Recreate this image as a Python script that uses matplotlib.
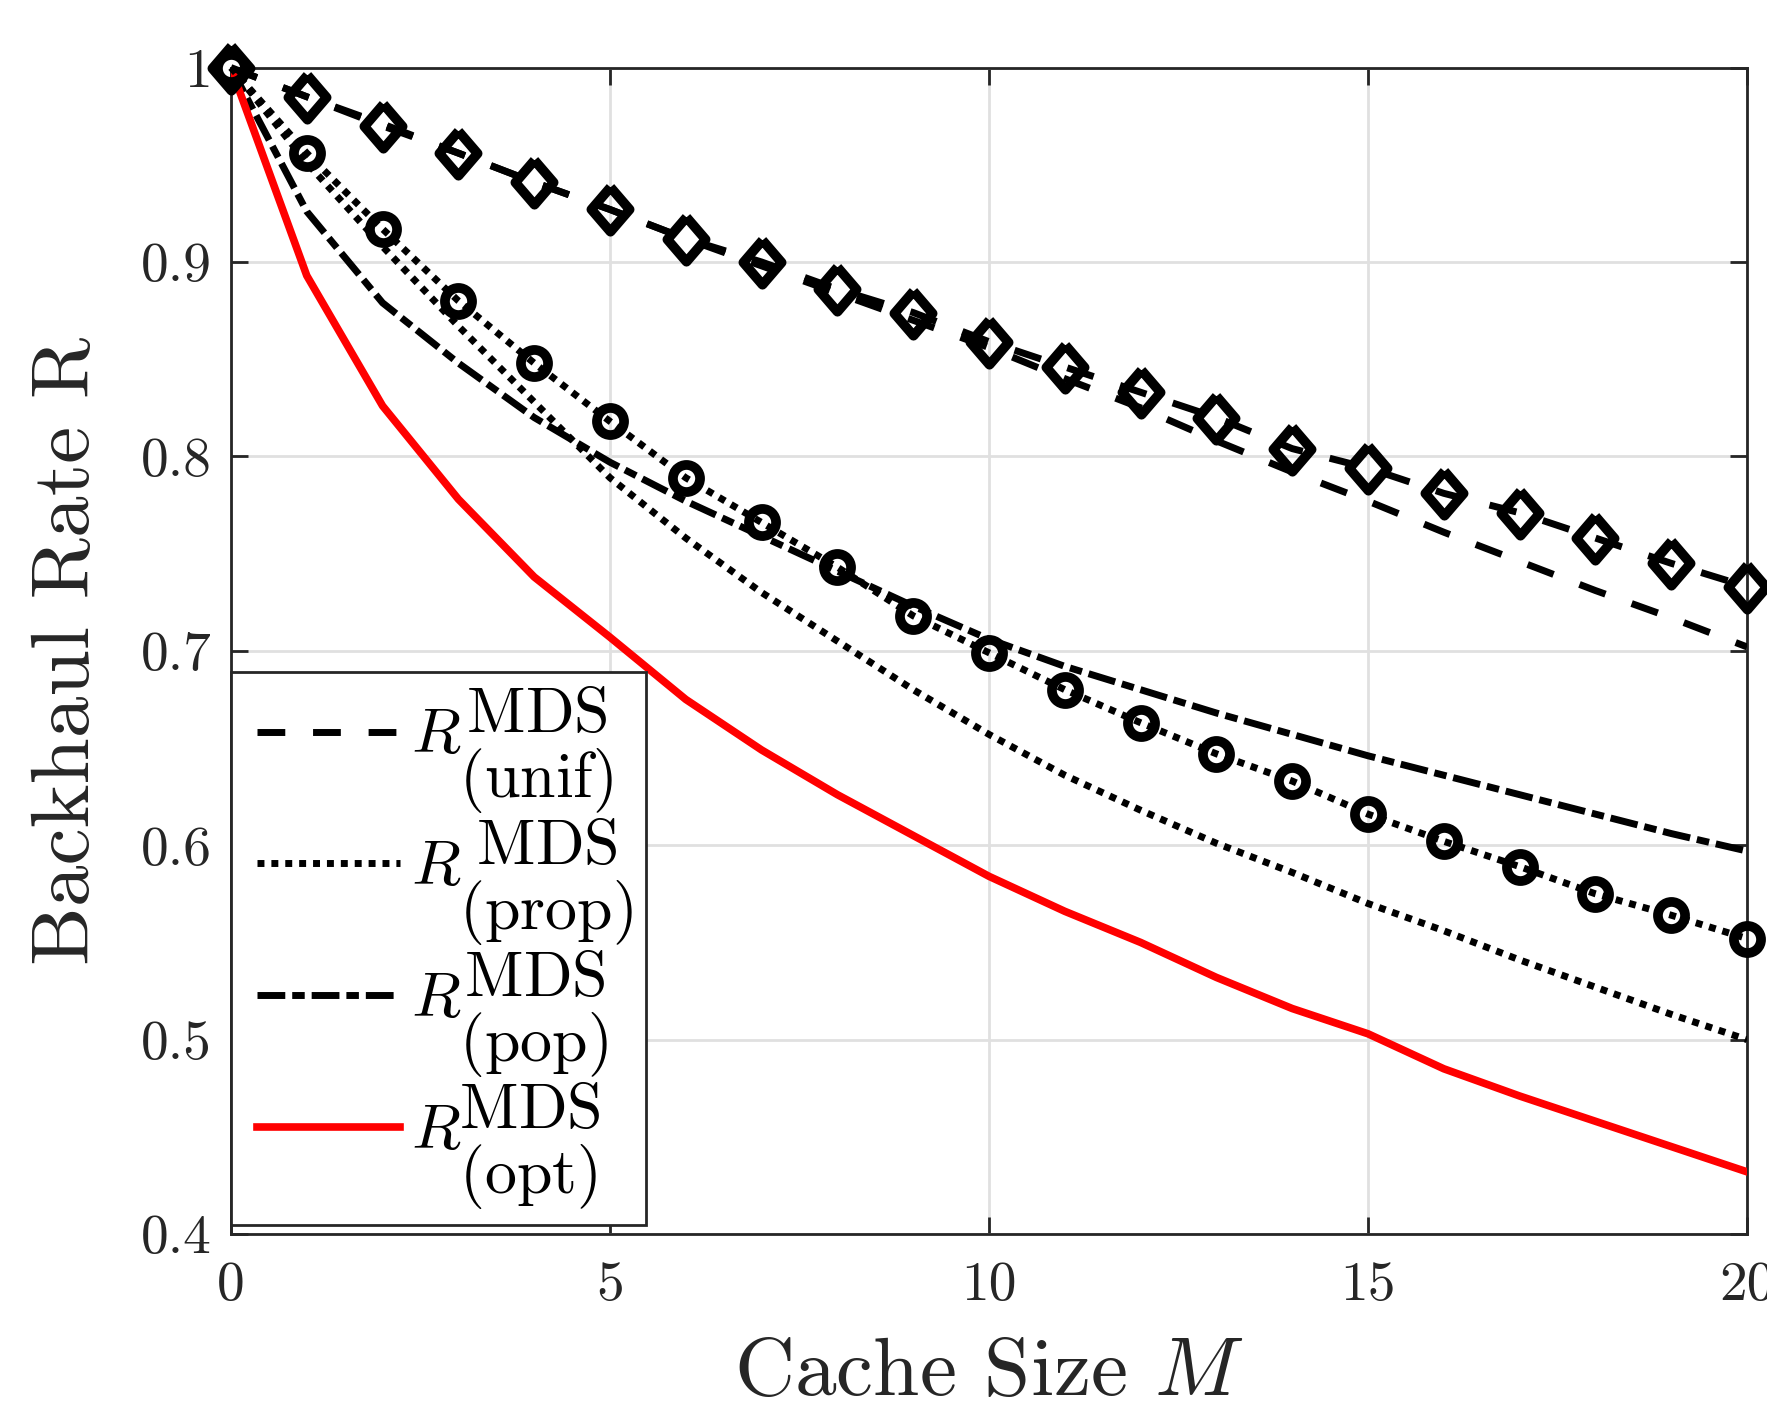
import matplotlib
matplotlib.use("Agg")
import matplotlib.pyplot as plt
from matplotlib.lines import Line2D
from matplotlib.legend_handler import HandlerLine2D

# ── Style ────────────────────────────────────────────────────────────────────
plt.rcParams["font.family"] = "cmr10"
plt.rcParams["mathtext.fontset"] = "cm"
plt.rcParams["axes.formatter.use_mathtext"] = True
plt.rcParams["lines.scale_dashes"] = False

C_AXIS = "#262626"
C_GRID = "#e0e0e0"
C_RED = "#ff0000"
C_BLACK = "#000000"

# ── Data ─────────────────────────────────────────────────────────────────────
cache_size = list(range(0, 21))

rate_unif = [1.000, 0.985, 0.971, 0.956, 0.941, 0.927, 0.912, 0.898, 0.884, 0.870,
             0.856, 0.840, 0.825, 0.808, 0.792, 0.777, 0.761, 0.746, 0.731, 0.717,
             0.702]
rate_unif_sim = [1.000, 0.985, 0.970, 0.956, 0.941, 0.927, 0.912, 0.900, 0.886, 0.874,
                 0.859, 0.846, 0.833, 0.820, 0.804, 0.794, 0.781, 0.771, 0.758, 0.745,
                 0.733]
rate_prop = [1.000, 0.951, 0.908, 0.867, 0.828, 0.789, 0.758, 0.730, 0.705, 0.680,
             0.657, 0.636, 0.618, 0.601, 0.586, 0.570, 0.556, 0.541, 0.527, 0.513,
             0.500]
rate_prop_sim = [1.000, 0.956, 0.917, 0.880, 0.848, 0.818, 0.789, 0.766, 0.743, 0.718,
                 0.699, 0.680, 0.663, 0.647, 0.633, 0.616, 0.602, 0.589, 0.575, 0.564,
                 0.552]
rate_pop = [1.000, 0.926, 0.879, 0.848, 0.820, 0.797, 0.777, 0.759, 0.741, 0.723,
            0.706, 0.692, 0.680, 0.668, 0.657, 0.646, 0.636, 0.626, 0.616, 0.606,
            0.597]
rate_opt = [1.000, 0.893, 0.826, 0.778, 0.738, 0.707, 0.675, 0.649, 0.626, 0.605,
            0.584, 0.566, 0.550, 0.532, 0.516, 0.503, 0.485, 0.471, 0.458, 0.445,
            0.432]

# full-size super/subscripts like the MATLAB legend: stack them with \genfrac
legend_labels = [
    r"$R\genfrac{}{}{0}{0}{\mathrm{MDS}}{(\mathrm{unif})}$",
    r"$R\genfrac{}{}{0}{0}{\mathrm{MDS}}{(\mathrm{prop})}$",
    r"$R\genfrac{}{}{0}{0}{\mathrm{MDS}}{(\mathrm{pop})}$",
    r"$R\genfrac{}{}{0}{0}{\mathrm{MDS}}{(\mathrm{opt})}$",
]
x_ticks = [0, 5, 10, 15, 20]
y_ticks = [0.4, 0.5, 0.6, 0.7, 0.8, 0.9, 1.0]
y_tick_labels = ["0.4", "0.5", "0.6", "0.7", "0.8", "0.9", "1"]

# ── Line styles (points) ─────────────────────────────────────────────────────
LW = 5.0
DASH = (20, 20)
DOT = (5, 5)
DASHDOT = (20, 5, 9, 5)
DIAMOND = [(0, 1), (0.86, 0), (0, -1), (-0.86, 0), (0, 1)]

# ── Figure ───────────────────────────────────────────────────────────────────
fig = plt.figure(figsize=(17.67, 14.02), dpi=100, facecolor="white")
ax = fig.add_axes([0.1307, 0.1198, 0.8580, 0.8320])

h_unif, = ax.plot(cache_size, rate_unif, color=C_BLACK, lw=LW, dashes=DASH,
                  dash_capstyle="butt", zorder=3)
h_prop, = ax.plot(cache_size, rate_prop, color=C_BLACK, lw=LW, dashes=DOT,
                  dash_capstyle="butt", zorder=3)
h_pop, = ax.plot(cache_size, rate_pop, color=C_BLACK, lw=LW, dashes=DASHDOT,
                 dash_capstyle="butt", zorder=3)
h_opt, = ax.plot(cache_size, rate_opt, color=C_RED, lw=5.5, zorder=3)

# simulated points
ax.plot(cache_size, rate_unif_sim, color=C_BLACK, lw=LW, dashes=DASH,
        dash_capstyle="butt", marker=DIAMOND, ms=32, mew=7, mfc="none",
        mec=C_BLACK, clip_on=False, zorder=4)
ax.plot(cache_size, rate_prop_sim, color=C_BLACK, lw=LW, dashes=DOT,
        dash_capstyle="butt", marker="o", ms=19.5, mew=7, mfc="none",
        mec=C_BLACK, clip_on=False, zorder=4)

# ── Axes ─────────────────────────────────────────────────────────────────────
ax.set_xlim(0, 20)
ax.set_ylim(0.4, 1.0)
ax.set_xticks(x_ticks)
ax.set_xticklabels([str(t) for t in x_ticks])
ax.set_yticks(y_ticks)
ax.set_yticklabels(y_tick_labels)

ax.grid(True, color=C_GRID, linewidth=2)
ax.set_axisbelow(True)

for sp in ax.spines.values():
    sp.set_color(C_AXIS)
    sp.set_linewidth(2)

ax.tick_params(direction="in", length=12, width=2, color=C_AXIS,
               top=True, right=True, labelsize=40, labelcolor=C_AXIS)
ax.tick_params(axis="x", pad=20)
ax.tick_params(axis="y", pad=14)

ax.set_xlabel(r"Cache Size $M$", fontsize=60, color=C_AXIS)
ax.set_ylabel("Backhaul Rate R", fontsize=60, color=C_AXIS)
ax.xaxis.set_label_coords(0.5, -0.138)
ax.xaxis.label.set_va("baseline")
ax.yaxis.set_label_coords(-0.1075, 0.5)
ax.yaxis.label.set_va("center")

# ── Legend ───────────────────────────────────────────────────────────────────
# xpad pushes the sample lines right without adding vertical padding
leg = ax.legend([h_unif, h_prop, h_pop, h_opt], legend_labels,
                loc="lower left", bbox_to_anchor=(0.0, 0.0077),
                borderaxespad=0, fontsize=46, handlelength=2.45,
                handletextpad=0.17, labelspacing=0.0, borderpad=0.2,
                handler_map={Line2D: HandlerLine2D(xpad=0.2)},
                frameon=True, fancybox=False, framealpha=1)
leg.get_frame().set_edgecolor(C_AXIS)
leg.get_frame().set_linewidth(2)
leg.set_zorder(5)

fig.savefig("out.png", dpi=100, facecolor="white")
